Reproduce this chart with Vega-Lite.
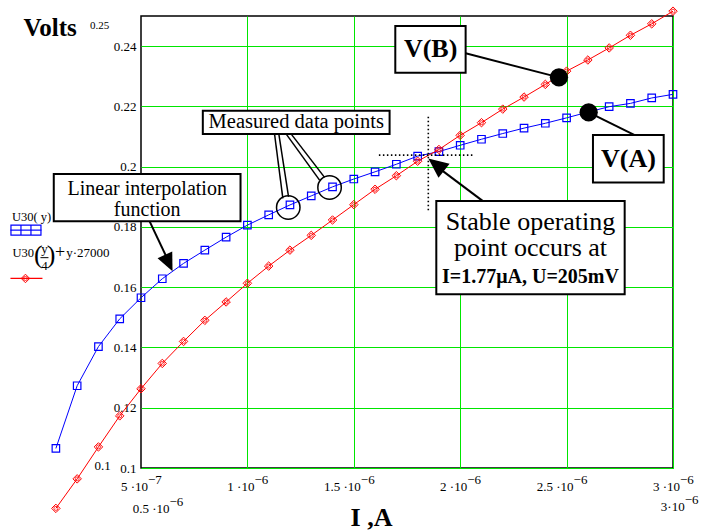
{
  "$schema": "https://vega.github.io/schema/vega-lite/v6.json",
  "width": 532,
  "height": 452,
  "autosize": "none",
  "padding": {"left": 141, "top": 16, "right": 43, "bottom": 64},
  "background": "white",
  "config": {"font": "Liberation Serif", "view": {"stroke": "#000", "strokeWidth": 1.5}},
  "datasets": {
    "u30": [
      {"I": 1e-7, "U": 0.1065}, {"I": 2e-7, "U": 0.1273}, {"I": 3e-7, "U": 0.1403}, {"I": 4e-7, "U": 0.1495},
      {"I": 5e-7, "U": 0.1565}, {"I": 6e-7, "U": 0.1628}, {"I": 7e-7, "U": 0.1679}, {"I": 8e-7, "U": 0.1723},
      {"I": 9e-7, "U": 0.1766}, {"I": 1e-6, "U": 0.1806}, {"I": 1.1e-6, "U": 0.184}, {"I": 1.2e-6, "U": 0.1873},
      {"I": 1.3e-6, "U": 0.1903}, {"I": 1.4e-6, "U": 0.1933}, {"I": 1.5e-6, "U": 0.1959}, {"I": 1.6e-6, "U": 0.1983},
      {"I": 1.7e-6, "U": 0.2008}, {"I": 1.8e-6, "U": 0.2035}, {"I": 1.9e-6, "U": 0.205}, {"I": 2e-6, "U": 0.2071},
      {"I": 2.1e-6, "U": 0.2091}, {"I": 2.2e-6, "U": 0.211}, {"I": 2.3e-6, "U": 0.2128}, {"I": 2.4e-6, "U": 0.2144},
      {"I": 2.5e-6, "U": 0.2162}, {"I": 2.6e-6, "U": 0.2181}, {"I": 2.7e-6, "U": 0.2199}, {"I": 2.8e-6, "U": 0.221},
      {"I": 2.9e-6, "U": 0.2228}, {"I": 3e-6, "U": 0.224}
    ],
    "load": [
      {"I": 1e-7, "U": 0.0866}, {"I": 2e-7, "U": 0.0964}, {"I": 3e-7, "U": 0.107}, {"I": 4e-7, "U": 0.1173},
      {"I": 5e-7, "U": 0.1263}, {"I": 6e-7, "U": 0.1347}, {"I": 7e-7, "U": 0.142}, {"I": 8e-7, "U": 0.149},
      {"I": 9e-7, "U": 0.1551}, {"I": 1e-6, "U": 0.1613}, {"I": 1.1e-6, "U": 0.167}, {"I": 1.2e-6, "U": 0.1723},
      {"I": 1.3e-6, "U": 0.1772}, {"I": 1.4e-6, "U": 0.1823}, {"I": 1.5e-6, "U": 0.1874}, {"I": 1.6e-6, "U": 0.1925},
      {"I": 1.7e-6, "U": 0.197}, {"I": 1.8e-6, "U": 0.2018}, {"I": 1.9e-6, "U": 0.2057}, {"I": 2e-6, "U": 0.2104},
      {"I": 2.1e-6, "U": 0.2146}, {"I": 2.2e-6, "U": 0.2191}, {"I": 2.3e-6, "U": 0.2231}, {"I": 2.4e-6, "U": 0.2273},
      {"I": 2.5e-6, "U": 0.2317}, {"I": 2.6e-6, "U": 0.2354}, {"I": 2.7e-6, "U": 0.2394}, {"I": 2.8e-6, "U": 0.2436},
      {"I": 2.9e-6, "U": 0.2474}, {"I": 3e-6, "U": 0.2516}
    ],
    "xticks": [
      {"v": 5e-7, "base": "5 ·10", "exp": "−7"},
      {"v": 1e-6, "base": "1 ·10", "exp": "−6"},
      {"v": 1.5e-6, "base": "1.5 ·10", "exp": "−6"},
      {"v": 2e-6, "base": "2 ·10", "exp": "−6"},
      {"v": 2.5e-6, "base": "2.5 ·10", "exp": "−6"},
      {"v": 3e-6, "base": "3 ·10", "exp": "−6"}
    ]
  },
  "data": {"values": [{}]},
  "layer": [
    {
      "data": {"name": "u30"},
      "mark": {"type": "line", "color": "#0000ff", "strokeWidth": 1},
      "encoding": {
        "x": {"field": "I", "type": "quantitative",
          "scale": {"domain": [5e-7, 3e-6], "nice": false, "zero": false},
          "axis": {"values": [1e-6, 1.5e-6, 2e-6, 2.5e-6, 3e-6], "labels": false, "ticks": false, "domain": false,
            "grid": true, "gridColor": "#00e600", "gridWidth": 1, "gridOpacity": 1,
            "title": "I ,A", "titleFontSize": 26, "titleFontWeight": "bold", "titleColor": "#000",
            "titleX": 230, "titleY": 49, "titleAlign": "center", "titleBaseline": "middle"}},
        "y": {"field": "U", "type": "quantitative",
          "scale": {"domain": [0.1, 0.25], "nice": false, "zero": false},
          "axis": {"values": [0.1, 0.12, 0.14, 0.16, 0.18, 0.2, 0.22, 0.24], "format": ".2~f",
            "labelFontSize": 13, "labelColor": "#000", "labelPadding": 5, "ticks": false, "domain": false,
            "grid": true, "gridColor": "#00e600", "gridWidth": 1, "gridOpacity": 1,
            "title": "Volts", "titleFontSize": 25, "titleFontWeight": "bold", "titleColor": "#000",
            "titleAngle": 0, "titleX": -118, "titleY": 11, "titleAlign": "left", "titleBaseline": "middle"}}
      }
    },
    {
      "data": {"name": "u30"},
      "mark": {"type": "point", "shape": "square", "filled": false, "color": "#0000ff", "strokeWidth": 1.2, "size": 56, "opacity": 1},
      "encoding": {"x": {"field": "I", "type": "quantitative"}, "y": {"field": "U", "type": "quantitative"}}
    },
    {
      "data": {"name": "load"},
      "mark": {"type": "line", "color": "#ff0000", "strokeWidth": 1},
      "encoding": {"x": {"field": "I", "type": "quantitative"}, "y": {"field": "U", "type": "quantitative"}}
    },
    {
      "data": {"name": "load"},
      "mark": {"type": "point", "shape": "diamond", "filled": false, "color": "#ff0000", "strokeWidth": 1, "size": 72, "opacity": 1},
      "encoding": {"x": {"field": "I", "type": "quantitative"}, "y": {"field": "U", "type": "quantitative"}}
    },
    {
      "data": {"name": "load"},
      "mark": {"type": "point", "shape": "circle", "filled": false, "color": "#ff0000", "strokeWidth": 0.8, "size": 16, "opacity": 1},
      "encoding": {"x": {"field": "I", "type": "quantitative"}, "y": {"field": "U", "type": "quantitative"}}
    },
    {
      "data": {"name": "xticks"},
      "mark": {"type": "text", "align": "right", "baseline": "middle", "dx": 7, "dy": 19, "fontSize": 13, "color": "#000"},
      "encoding": {"x": {"field": "v", "type": "quantitative"}, "y": {"datum": 0.1}, "text": {"field": "base"}}
    },
    {
      "data": {"name": "xticks"},
      "mark": {"type": "text", "align": "left", "baseline": "middle", "dx": 7, "dy": 12, "fontSize": 13, "color": "#000"},
      "encoding": {"x": {"field": "v", "type": "quantitative"}, "y": {"datum": 0.1}, "text": {"field": "exp"}}
    },
    {
      "mark": {"type": "text", "align": "left", "baseline": "middle", "fontSize": 13, "color": "#000", "text": "0.1"},
      "encoding": {"x": {"datum": 2.814e-7}, "y": {"datum": 0.10056}}
    },
    {
      "mark": {"type": "text", "align": "left", "baseline": "middle", "fontSize": 11, "color": "#000", "text": "0.25"},
      "encoding": {"x": {"datum": 2.6e-7}, "y": {"datum": 0.24668}}
    },
    {
      "mark": {"type": "text", "align": "right", "baseline": "middle", "fontSize": 13, "color": "#000", "text": "0.5 ·10"},
      "encoding": {"x": {"datum": 6.34e-7}, "y": {"datum": 0.08629}}
    },
    {
      "mark": {"type": "text", "align": "left", "baseline": "middle", "fontSize": 13, "color": "#000", "text": "−6"},
      "encoding": {"x": {"datum": 6.34e-7}, "y": {"datum": 0.0886}}
    },
    {
      "mark": {"type": "text", "align": "right", "baseline": "middle", "fontSize": 13, "color": "#000", "text": "3·10"},
      "encoding": {"x": {"datum": 3.055e-6}, "y": {"datum": 0.08695}}
    },
    {
      "mark": {"type": "text", "align": "left", "baseline": "middle", "fontSize": 13, "color": "#000", "text": "−6"},
      "encoding": {"x": {"datum": 3.055e-6}, "y": {"datum": 0.08927}}
    },
    {
      "mark": {"type": "rule", "color": "#000", "strokeWidth": 1.6, "strokeDash": [1.5, 2.5]},
      "encoding": {"x": {"datum": 1.8501e-6}, "y": {"datum": 0.21656}, "y2": {"datum": 0.18501}}
    },
    {
      "mark": {"type": "rule", "color": "#000", "strokeWidth": 1.6, "strokeDash": [1.5, 2.5]},
      "encoding": {"x": {"datum": 1.6179e-6}, "x2": {"datum": 2.0598e-6}, "y": {"datum": 0.20384}}
    },
    {
      "mark": {"type": "point", "shape": "circle", "filled": false, "color": "#000", "strokeWidth": 1.5, "size": 550, "opacity": 1},
      "encoding": {"x": {"datum": 1.192e-6}, "y": {"datum": 0.18647}}
    },
    {
      "mark": {"type": "point", "shape": "circle", "filled": false, "color": "#000", "strokeWidth": 1.5, "size": 550, "opacity": 1},
      "encoding": {"x": {"datum": 1.3861e-6}, "y": {"datum": 0.19311}}
    },
    {
      "mark": {"type": "rule", "color": "#000", "strokeWidth": 1.5},
      "encoding": {"x": {"datum": 1.1276e-6}, "y": {"datum": 0.2108}, "x2": {"datum": 1.1666e-6}, "y2": {"datum": 0.18946}}
    },
    {
      "mark": {"type": "rule", "color": "#000", "strokeWidth": 1.5},
      "encoding": {"x": {"datum": 1.1478e-6}, "y": {"datum": 0.2108}, "x2": {"datum": 1.1934e-6}, "y2": {"datum": 0.19}}
    },
    {
      "mark": {"type": "rule", "color": "#000", "strokeWidth": 1.5},
      "encoding": {"x": {"datum": 1.1826e-6}, "y": {"datum": 0.2108}, "x2": {"datum": 1.3391e-6}, "y2": {"datum": 0.19554}}
    },
    {
      "mark": {"type": "rule", "color": "#000", "strokeWidth": 1.5},
      "encoding": {"x": {"datum": 1.2061e-6}, "y": {"datum": 0.2108}, "x2": {"datum": 1.3626e-6}, "y2": {"datum": 0.19644}}
    },
    {
      "mark": {"type": "rect", "fill": "white", "stroke": "#000", "strokeWidth": 2},
      "encoding": {"x": {"datum": 7.905e-7}, "x2": {"datum": 1.6682e-6}, "y": {"datum": 0.21855}, "y2": {"datum": 0.21082}}
    },
    {
      "mark": {"type": "text", "align": "center", "baseline": "middle", "fontSize": 20.5, "color": "#000", "text": "Measured data points"},
      "encoding": {"x": {"datum": 1.2296e-6}, "y": {"datum": 0.2147}}
    },
    {
      "mark": {"type": "rule", "color": "#000", "strokeWidth": 2},
      "encoding": {"x": {"datum": 5.4e-7}, "y": {"datum": 0.18192}, "x2": {"datum": 6.3e-7}, "y2": {"datum": 0.1685}}
    },
    {
      "mark": {"type": "point", "shape": "M0,0L0.45,1L-0.45,1Z", "filled": true, "color": "#000", "size": 1300, "angle": 155, "opacity": 1, "strokeWidth": 0},
      "encoding": {"x": {"datum": 6.481e-7}, "y": {"datum": 0.16532}}
    },
    {
      "mark": {"type": "rect", "fill": "white", "stroke": "#000", "strokeWidth": 2},
      "encoding": {"x": {"datum": 9.01e-8}, "x2": {"datum": 9.677e-7}, "y": {"datum": 0.19753}, "y2": {"datum": 0.18192}}
    },
    {
      "mark": {"type": "text", "align": "center", "baseline": "middle", "fontSize": 20, "color": "#000", "text": "Linear interpolation"},
      "encoding": {"x": {"datum": 5.291e-7}, "y": {"datum": 0.19265}}
    },
    {
      "mark": {"type": "text", "align": "center", "baseline": "middle", "fontSize": 20, "color": "#000", "text": "function"},
      "encoding": {"x": {"datum": 5.291e-7}, "y": {"datum": 0.18575}}
    },
    {
      "mark": {"type": "rule", "color": "#000", "strokeWidth": 2},
      "encoding": {"x": {"datum": 2.1068e-6}, "y": {"datum": 0.18857}, "x2": {"datum": 1.9e-6}, "y2": {"datum": 0.1995}}
    },
    {
      "mark": {"type": "point", "shape": "M0,0L0.45,1L-0.45,1Z", "filled": true, "color": "#000", "size": 1600, "angle": 308, "opacity": 1, "strokeWidth": 0},
      "encoding": {"x": {"datum": 1.8501e-6}, "y": {"datum": 0.20274}}
    },
    {
      "mark": {"type": "rect", "fill": "white", "stroke": "#000", "strokeWidth": 2},
      "encoding": {"x": {"datum": 1.8877e-6}, "x2": {"datum": 2.7729e-6}, "y": {"datum": 0.18857}, "y2": {"datum": 0.15768}}
    },
    {
      "mark": {"type": "text", "align": "center", "baseline": "middle", "fontSize": 26, "color": "#000", "text": "Stable operating"},
      "encoding": {"x": {"datum": 2.3303e-6}, "y": {"datum": 0.18169}}
    },
    {
      "mark": {"type": "text", "align": "center", "baseline": "middle", "fontSize": 26, "color": "#000", "text": "point occurs at"},
      "encoding": {"x": {"datum": 2.3303e-6}, "y": {"datum": 0.17286}}
    },
    {
      "mark": {"type": "text", "align": "center", "baseline": "middle", "fontSize": 20, "fontWeight": "bold", "color": "#000", "text": "I=1.77μA, U=205mV"},
      "encoding": {"x": {"datum": 2.3303e-6}, "y": {"datum": 0.16343}}
    },
    {
      "mark": {"type": "rule", "color": "#000", "strokeWidth": 2},
      "encoding": {"x": {"datum": 2.0255e-6}, "y": {"datum": 0.23761}, "x2": {"datum": 2.464e-6}, "y2": {"datum": 0.22964}}
    },
    {
      "mark": {"type": "rect", "fill": "white", "stroke": "#000", "strokeWidth": 2},
      "encoding": {"x": {"datum": 1.695e-6}, "x2": {"datum": 2.0255e-6}, "y": {"datum": 0.24668}, "y2": {"datum": 0.23117}}
    },
    {
      "mark": {"type": "text", "align": "center", "baseline": "middle", "fontSize": 26, "fontWeight": "bold", "color": "#000", "text": "V(B)"},
      "encoding": {"x": {"datum": 1.861e-6}, "y": {"datum": 0.23894}}
    },
    {
      "mark": {"type": "point", "shape": "circle", "filled": true, "color": "#000", "size": 335, "opacity": 1},
      "encoding": {"x": {"datum": 2.464e-6}, "y": {"datum": 0.22964}}
    },
    {
      "mark": {"type": "rule", "color": "#000", "strokeWidth": 2},
      "encoding": {"x": {"datum": 2.6037e-6}, "y": {"datum": 0.21802}, "x2": {"datum": 2.82e-6}, "y2": {"datum": 0.21048}}
    },
    {
      "mark": {"type": "rect", "fill": "white", "stroke": "#000", "strokeWidth": 2},
      "encoding": {"x": {"datum": 2.6239e-6}, "x2": {"datum": 2.9563e-6}, "y": {"datum": 0.21048}, "y2": {"datum": 0.19478}}
    },
    {
      "mark": {"type": "text", "align": "center", "baseline": "middle", "fontSize": 26, "fontWeight": "bold", "color": "#000", "text": "V(A)"},
      "encoding": {"x": {"datum": 2.7904e-6}, "y": {"datum": 0.20261}}
    },
    {
      "mark": {"type": "point", "shape": "circle", "filled": true, "color": "#000", "size": 335, "opacity": 1},
      "encoding": {"x": {"datum": 2.6037e-6}, "y": {"datum": 0.21802}}
    },
    {
      "mark": {"type": "text", "align": "left", "baseline": "middle", "fontSize": 12.5, "color": "#000", "text": "U30( y)"},
      "encoding": {"x": {"datum": -1.065e-7}, "y": {"datum": 0.18335}}
    },
    {
      "mark": {"type": "rule", "color": "#0000ff", "strokeWidth": 1.2},
      "encoding": {"x": {"datum": -1.135e-7}, "x2": {"datum": 3.22e-8}, "y": {"datum": 0.17894}}
    },
    {
      "mark": {"type": "point", "shape": "M-1.5,-0.5h1v1h-1z M-0.5,-0.5h1v1h-1z M0.5,-0.5h1v1h-1z", "filled": false, "color": "#0000ff", "strokeWidth": 1.2, "size": 400, "opacity": 1},
      "encoding": {"x": {"datum": -4.06e-8}, "y": {"datum": 0.17894}}
    },
    {
      "mark": {"type": "text", "align": "left", "baseline": "middle", "fontSize": 12.5, "color": "#000", "text": "U30"},
      "encoding": {"x": {"datum": -1.04e-7}, "y": {"datum": 0.1714}}
    },
    {
      "mark": {"type": "text", "align": "center", "baseline": "middle", "fontSize": 26, "color": "#000", "text": "("},
      "encoding": {"x": {"datum": 1.7e-8}, "y": {"datum": 0.17063}}
    },
    {
      "mark": {"type": "text", "align": "center", "baseline": "middle", "fontSize": 26, "color": "#000", "text": ")"},
      "encoding": {"x": {"datum": 7.7e-8}, "y": {"datum": 0.17063}}
    },
    {
      "mark": {"type": "text", "align": "center", "baseline": "middle", "fontSize": 13, "color": "#000", "text": "y"},
      "encoding": {"x": {"datum": 4.64e-8}, "y": {"datum": 0.17263}}
    },
    {
      "mark": {"type": "rule", "color": "#000", "strokeWidth": 1},
      "encoding": {"x": {"datum": 2.755e-8}, "x2": {"datum": 6.516e-8}, "y": {"datum": 0.1698}}
    },
    {
      "mark": {"type": "text", "align": "center", "baseline": "middle", "fontSize": 13, "color": "#000", "text": "4"},
      "encoding": {"x": {"datum": 4.64e-8}, "y": {"datum": 0.16698}}
    },
    {
      "mark": {"type": "text", "align": "center", "baseline": "middle", "fontSize": 18, "color": "#000", "text": "+"},
      "encoding": {"x": {"datum": 1.2016e-7}, "y": {"datum": 0.17146}}
    },
    {
      "mark": {"type": "text", "align": "left", "baseline": "middle", "fontSize": 13, "color": "#000", "text": "y·27000"},
      "encoding": {"x": {"datum": 1.4836e-7}, "y": {"datum": 0.17146}}
    },
    {
      "mark": {"type": "rule", "color": "#ff0000", "strokeWidth": 1.2},
      "encoding": {"x": {"datum": -1.135e-7}, "x2": {"datum": 3.69e-8}, "y": {"datum": 0.1629}}
    },
    {
      "mark": {"type": "point", "shape": "diamond", "filled": false, "color": "#ff0000", "strokeWidth": 1, "size": 72, "opacity": 1},
      "encoding": {"x": {"datum": -4.3e-8}, "y": {"datum": 0.1629}}
    },
    {
      "mark": {"type": "point", "shape": "circle", "filled": false, "color": "#ff0000", "strokeWidth": 0.8, "size": 16, "opacity": 1},
      "encoding": {"x": {"datum": -4.3e-8}, "y": {"datum": 0.1629}}
    }
  ]
}
